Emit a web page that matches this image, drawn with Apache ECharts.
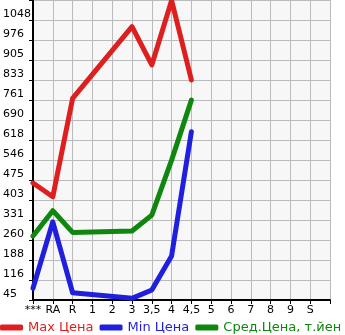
<!DOCTYPE html>
<html><head><meta charset="utf-8">
<script src="https://cdn.jsdelivr.net/npm/echarts@6/dist/echarts.min.js"></script>
<style>html,body{margin:0;padding:0;background:#fff}#c{width:345px;height:335px}</style>
</head><body><div id="c"></div>
<script>
var categories = ['***','RA','R','1','2','3','3,5','4','4,5','5','6','7','8','9','S',''];
var maxPrice = [464, 415, 767, null, null, 1024, 887, 1118, 833, null, null, null, null, null, null, null];
var minPrice = [87, 325, 71, null, null, 51, 81, 203, 648, null, null, null, null, null, null, null];
var avgPrice = [274, 365, 287, null, null, 292, 349, 546, 761, null, null, null, null, null, null, null];
var yTickLabels = ['45','116','188','260','331','403','475','546','618','690','761','833','905','976','1048'];
var seriesNames = ['Max Цена','Min Цена','Сред.Цена, т.йен'];
var colors = ['#dd1f1f','#1f1fdd','#0f870f'];

var BASE = 45;
var STEP = (1048 - 45) / 14;
function shift(arr){ return arr.map(function(v){ return v == null ? null : v - BASE; }); }

var chart = echarts.init(document.getElementById('c'), null, {renderer:'canvas'});
var font = 'DejaVu Sans';
chart.setOption({
  animation:false,
  backgroundColor:'#ffffff',
  grid:{left:31, right:15, top:0, bottom:35, show:true, backgroundColor:'#f7f7f7', borderWidth:0, containLabel:false},
  xAxis:{
    type:'category', data:categories, boundaryGap:false,
    axisLine:{show:true, lineStyle:{color:'#000', width:2}},
    axisTick:{show:true, length:4, lineStyle:{color:'#000', width:1}},
    axisLabel:{color:'#000', fontFamily:font, fontSize:11, margin:5, interval:0},
    splitLine:{show:true, lineStyle:{color:'#bbbbbb', width:1}}
  },
  yAxis:{
    type:'value', min:0, max:STEP*15, interval:STEP,
    axisLine:{show:true, lineStyle:{color:'#000', width:2}},
    axisTick:{show:true, length:4, lineStyle:{color:'#000', width:1}},
    axisLabel:{color:'#000', fontFamily:font, fontSize:11, align:'left', verticalAlign:'bottom', margin:30,
      formatter:function(v){ var i = Math.round(v/STEP); return yTickLabels[i] || ''; }},
    splitLine:{show:true, lineStyle:{color:'#bbbbbb', width:1}}
  },
  legend:{
    left:0, bottom:1, width:420, padding:0, itemWidth:23, itemHeight:6, itemGap:6, icon:'roundRect',
    textStyle:{fontFamily:font, fontSize:13},
    data:seriesNames.map(function(n,i){ return {name:n, textStyle:{color:colors[i]}}; })
  },
  series:[
    {name:seriesNames[0], type:'line', data:shift(maxPrice), connectNulls:true, showSymbol:false, color:colors[0], lineStyle:{width:5, cap:'round', join:'round'}},
    {name:seriesNames[1], type:'line', data:shift(minPrice), connectNulls:true, showSymbol:false, color:colors[1], lineStyle:{width:5, cap:'round', join:'round'}},
    {name:seriesNames[2], type:'line', data:shift(avgPrice), connectNulls:true, showSymbol:false, color:colors[2], lineStyle:{width:5, cap:'round', join:'round'}}
  ]
});
</script></body></html>
